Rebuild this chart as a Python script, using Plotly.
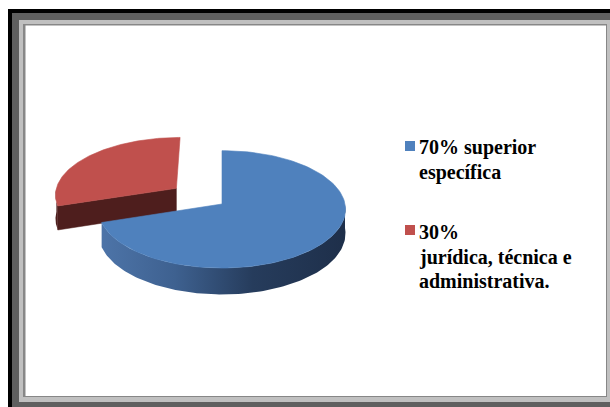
import numpy as np
import plotly.graph_objects as go

# Chart data
categories = ["70% superior específica", "30% jurídica, técnica e administrativa."]
values = [70, 30]
legend_lines = [["70% superior", "específica"],
                ["30%", "jurídica, técnica e", "administrativa."]]
explode = [0.0, 0.47]

# Styling
top_colors = ["#4f81bd", "#c0504d"]
face_colors = ["#2c4568", "#4e1e1d"]
wall_scales = [
    [[0.0, "#4d74a8"], [0.3, "#3e6190"], [0.62, "#263c5c"], [1.0, "#1e2f4a"]],
    [[0.0, "#4e1e1d"], [1.0, "#4e1e1d"]],
]
LEGEND_FONT = "Times New Roman, Liberation Serif, DejaVu Serif, serif"

W, H = 610, 407
CX, CY = 222, 204          # pie centre (pixels)
RX, RY = 123, 58.2         # ellipse radii of the top face
K = 0.0909                 # perspective strength (front larger than back)
DEPTH = 24                 # thickness of the pie


def proj(u, v, z=0.0):
    u = np.asarray(u, dtype=float)
    v = np.asarray(v, dtype=float)
    f = 1.0 / (1.0 - K * v)
    return CX + RX * u * f, CY + (RY * v + z) * f


def arc(du, dv, a0, a1, z=0.0, n=120):
    phi = np.radians(np.linspace(a0, a1, n))
    return proj(du + np.sin(phi), dv - np.cos(phi), z)


total = float(sum(values))
bounds = np.concatenate([[0.0], np.cumsum(values) / total * 360.0])

fig = go.Figure()

slices = []
for i, val in enumerate(values):
    a0, a1 = bounds[i], bounds[i + 1]
    mid = np.radians((a0 + a1) / 2)
    du, dv = explode[i] * np.sin(mid), -explode[i] * np.cos(mid)
    slices.append((i, a0, a1, du, dv))

# back slices first
slices.sort(key=lambda s: s[4])

for i, a0, a1, du, dv in slices:
    common = dict(mode="lines", fill="toself", hoverinfo="skip", showlegend=False)
    # radial cut faces that face the viewer
    for edge, visible in ((a0, np.sin(np.radians(a0)) < -1e-9),
                          (a1, np.sin(np.radians(a1)) > 1e-9)):
        if not visible:
            continue
        e = np.radians(edge)
        ou, ov = du + np.sin(e), dv - np.cos(e)
        px0, py0 = proj([du, ou, ou, du], [dv, ov, ov, dv], 0)
        _, pyz = proj([du, ou, ou, du], [dv, ov, ov, dv], DEPTH)
        xs = [px0[0], px0[1], px0[2], px0[3], px0[0]]
        ys = [py0[0], py0[1], pyz[2], pyz[3], py0[0]]
        fig.add_trace(go.Scatter(x=xs, y=ys, fillcolor=face_colors[i],
                                 line=dict(width=0.5, color=face_colors[i]), **common))
    # outer curved wall (front half only)
    w0, w1 = max(a0, 90.0), min(a1, 270.0)
    if w1 > w0:
        tx, ty = arc(du, dv, w0, w1, 0)
        bx, by = arc(du, dv, w0, w1, DEPTH)
        xs = np.concatenate([tx, bx[::-1], tx[:1]])
        ys = np.concatenate([ty, by[::-1], ty[:1]])
        fig.add_trace(go.Scatter(
            x=xs, y=ys, fillgradient=dict(type="horizontal", colorscale=wall_scales[i]),
            line=dict(width=0), **common))
    # top face
    tx, ty = arc(du, dv, a0, a1, 0)
    vx, vy = proj(du, dv, 0)
    xs = np.concatenate([[vx], tx, [vx]])
    ys = np.concatenate([[vy], ty, [vy]])
    fig.add_trace(go.Scatter(x=xs, y=ys, fillcolor=top_colors[i],
                             line=dict(width=0.6, color=top_colors[i]),
                             name=categories[i], **common))

# Frame around the chart area
shapes = [
    dict(type="rect", x0=8, y0=9, x1=W + 5, y1=H + 5, fillcolor="#000000", line_width=0),
    dict(type="rect", x0=12, y0=13, x1=W + 5, y1=H + 5, fillcolor="#5f5f5f", line_width=0),
    dict(type="rect", x0=19, y0=20, x1=W, y1=402, fillcolor="#c0c0c0", line_width=0),
    dict(type="rect", x0=23, y0=24, x1=607, y1=397, fillcolor="#878787", line_width=0),
    dict(type="rect", x0=25.5, y0=25.5, x1=606, y1=396, fillcolor="#ffffff", line_width=0),
]
for s in shapes:
    s.update(xref="x", yref="y", layer="below")

# Legend: colour swatches and text lines
annotations = []
swatch_y = [146, 230]
line_y = [[147, 172], [232, 257, 281]]
for i, lines in enumerate(legend_lines):
    shapes.append(dict(type="rect", xref="x", yref="y", x0=405, x1=415,
                       y0=swatch_y[i] - 5, y1=swatch_y[i] + 5,
                       fillcolor=top_colors[i], line_width=0, layer="above"))
    for txt, yy in zip(lines, line_y[i]):
        annotations.append(dict(x=417, y=yy, xref="x", yref="y",
                                text="<b>" + txt + "</b>",
                                showarrow=False, xanchor="left", yanchor="middle",
                                font=dict(family=LEGEND_FONT, size=20, color="#000000")))

fig.update_layout(
    width=W, height=H,
    margin=dict(l=0, r=0, t=0, b=0),
    paper_bgcolor="#ffffff", plot_bgcolor="rgba(0,0,0,0)",
    xaxis=dict(range=[0, W], visible=False, fixedrange=True),
    yaxis=dict(range=[H, 0], visible=False, fixedrange=True),
    shapes=shapes, annotations=annotations, showlegend=False,
)

fig.write_html("out.html")
